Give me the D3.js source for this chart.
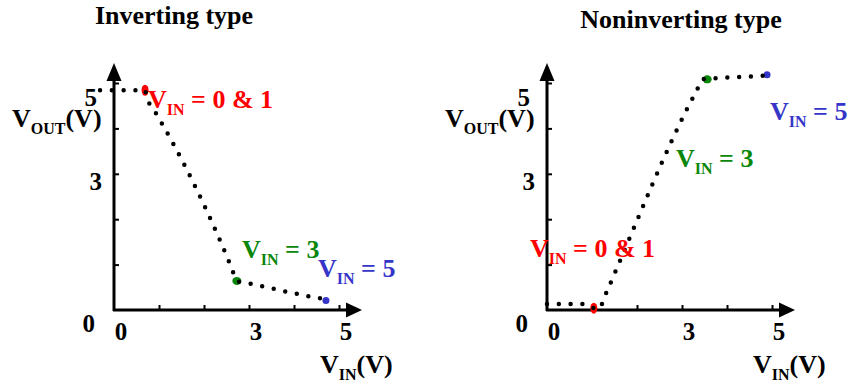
<!DOCTYPE html>
<html lang='en'>
<head>
   <meta charset='UTF-8'>
   <title>Inverting / Noninverting transfer curves</title>
   <script src='https://d3js.org/d3.v7.min.js'></script>
   <style>
      body { margin: 0; background: #fff; }
      svg { display: block; }
      text { font-family: 'Liberation Serif', 'Times New Roman', serif; font-weight: bold; }
   </style>
</head>
<body>
   <div id='svg-container'></div>
   <script>
      // axis ticks (volts) and which of them carry a label
      const tickValues = [1, 2, 3, 4, 5];
      const tickLabels = [0, 3, 5];

      // inverting type: traced V_IN -> V_OUT points
      const invVin = [-0.31, 0.51, 0.69, 0.73, 0.87, 2.62, 2.73, 3.02, 3.53, 4.04, 4.29, 4.71];
      const invVout = [4.84, 4.84, 4.84, 4.67, 4.44, 0.91, 0.64, 0.58, 0.47, 0.36, 0.31, 0.24];

      // noninverting type
      const nonVin = [0, 0.82, 1.04, 1.16, 1.27, 3.33, 3.47, 3.56, 3.80, 4.80, 4.89];
      const nonVout = [0.13, 0.13, 0.04, 0.02, 0.27, 4.84, 5.09, 5.09, 5.11, 5.16, 5.18];

      // highlighted operating points: V_IN = 0 & 1, 3, 5
      const markNames = ['0 & 1', '3', '5'];
      const markColors = ['#ff0000', '#0a870a', '#3535c8'];
      const invMarkVin = [0.69, 2.73, 4.71];
      const invMarkVout = [4.84, 0.64, 0.21];
      const nonMarkVin = [1.04, 3.56, 4.89];
      const nonMarkVout = [0.04, 5.08, 5.18];

      const svg = d3.select('#svg-container').append('svg').attr('width', 849).attr('height', 387);

      const panels = [
         {
            ox: 114, oy: 310, title: 'Inverting type', titleX: 174, titleY: 24,
            vin: invVin, vout: invVout, markVin: invMarkVin, markVout: invMarkVout,
            labelPos: [[148, 108], [242, 258], [318, 277]]
         },
         {
            ox: 547, oy: 310, title: 'Noninverting type', titleX: 681, titleY: 28,
            vin: nonVin, vout: nonVout, markVin: nonMarkVin, markVout: nonMarkVout,
            labelPos: [[530, 257], [676, 167], [770, 120]]
         }
      ];

      // V with subscript followed by more text
      const subText = (sel, x, y, sub, rest, colour) => {
         const t = sel.append('text').attr('x', x).attr('y', y).attr('fill', colour).attr('font-size', 26);
         t.append('tspan').text('V');
         t.append('tspan').attr('font-size', 16).attr('dy', 7).text(sub);
         t.append('tspan').attr('dy', -7).text(rest);
         return t;
      };

      panels.forEach(p => {
         const g = svg.append('g');
         const x = d3.scaleLinear().domain([0, 5]).range([p.ox, p.ox + 225]);
         const y = d3.scaleLinear().domain([0, 5]).range([p.oy, p.oy - 227]);

         g.append('text')
            .attr('x', p.titleX).attr('y', p.titleY)
            .attr('text-anchor', 'middle').attr('font-size', 26)
            .text(p.title);

         // ticks point inward, domain path hidden (axes drawn below with arrows)
         const xAxis = g.append('g').attr('transform', `translate(0, ${p.oy})`)
            .call(d3.axisBottom(x).tickValues(tickValues).tickSize(-5).tickSizeOuter(0).tickFormat(''));
         const yAxis = g.append('g').attr('transform', `translate(${p.ox}, 0)`)
            .call(d3.axisLeft(y).tickValues(tickValues).tickSize(-5).tickSizeOuter(0).tickFormat(''));
         [xAxis, yAxis].forEach(a => {
            a.select('.domain').remove();
            a.selectAll('.tick line').attr('stroke', '#000').attr('stroke-width', 2);
         });

         g.append('line')
            .attr('x1', p.ox - 1).attr('y1', p.oy).attr('x2', p.ox + 235).attr('y2', p.oy)
            .attr('stroke', '#000').attr('stroke-width', 3);
         g.append('line')
            .attr('x1', p.ox).attr('y1', p.oy + 1).attr('x2', p.ox).attr('y2', p.oy - 230)
            .attr('stroke', '#000').attr('stroke-width', 3);
         g.append('path')
            .attr('d', `M${p.ox + 248},${p.oy} L${p.ox + 232},${p.oy - 7.5} L${p.ox + 232},${p.oy + 7.5} Z`)
            .attr('fill', '#000');
         g.append('path')
            .attr('d', `M${p.ox},${p.oy - 247} L${p.ox - 7.5},${p.oy - 229} L${p.ox + 7.5},${p.oy - 229} Z`)
            .attr('fill', '#000');

         // tick labels
         g.selectAll('.xlab').data(tickLabels).join('text')
            .attr('x', d => x(d) + 7).attr('y', p.oy + 30)
            .attr('text-anchor', 'middle').attr('font-size', 25)
            .text(d => d);
         const yOff = { 0: 22, 3: 16, 5: 23 };
         const yRight = { 0: -19, 3: -12, 5: -17 };
         g.selectAll('.ylab').data(tickLabels).join('text')
            .attr('x', d => p.ox + yRight[d]).attr('y', d => y(d) + yOff[d])
            .attr('text-anchor', 'end').attr('font-size', 25)
            .text(d => d);

         subText(g, p.ox - 102, p.oy - 183, 'OUT', '(V)', '#000');
         subText(g, p.ox + 206, p.oy + 63, 'IN', '(V)', '#000');

         // markers
         p.markVin.forEach((v, i) => {
            g.append('ellipse')
               .attr('cx', x(v)).attr('cy', y(p.markVout[i]))
               .attr('rx', i === 0 ? 3.5 : (i === 1 ? 4.5 : 3.5))
               .attr('ry', i === 0 ? 5.5 : (i === 1 ? 4 : 3.5))
               .attr('fill', markColors[i]);
         });

         // dotted curve
         const line = d3.line().x(d => x(d[0])).y(d => y(d[1])).curve(d3.curveMonotoneX);
         g.append('path')
            .datum(p.vin.map((v, i) => [v, p.vout[i]]))
            .attr('d', line)
            .attr('fill', 'none').attr('stroke', '#000')
            .attr('stroke-width', 4.5).attr('stroke-linecap', 'round')
            .attr('stroke-dasharray', '0 11.8');

         markNames.forEach((n, i) => {
            subText(g, p.labelPos[i][0], p.labelPos[i][1], 'IN', ' = ' + n, markColors[i]);
         });
      });
   </script>
</body>
</html>
